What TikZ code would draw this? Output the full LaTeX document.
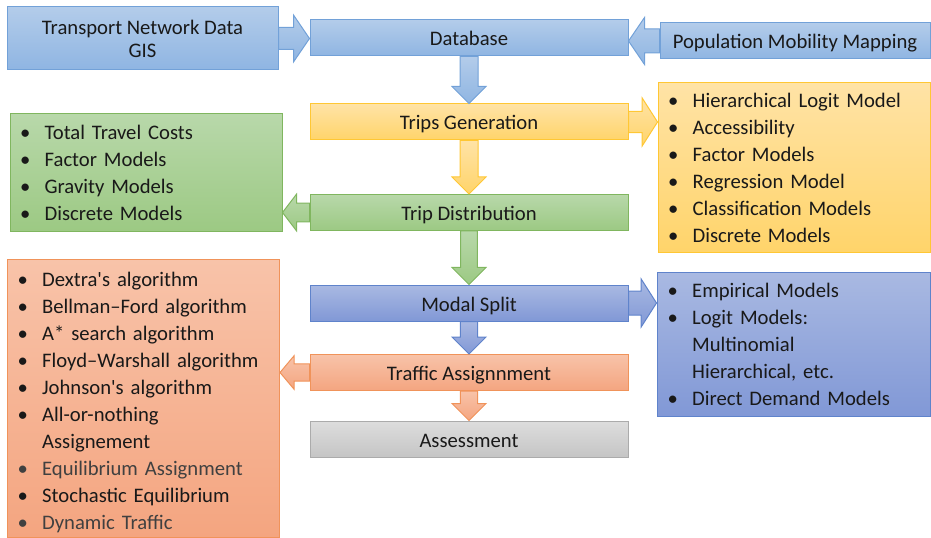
\documentclass[tikz,border=0pt]{standalone}
\usepackage{fontspec}
\setmainfont{Carlito}
\usetikzlibrary{calc,positioning}

\definecolor{blueTop}{HTML}{B3CCEA}
\definecolor{blueBot}{HTML}{8FB5E2}
\definecolor{blueLine}{HTML}{72A1D8}
\definecolor{yellowTop}{HTML}{FFE3A6}
\definecolor{yellowBot}{HTML}{FFD46A}
\definecolor{yellowLine}{HTML}{FFC734}
\definecolor{greenTop}{HTML}{B8D8AA}
\definecolor{greenBot}{HTML}{9CC983}
\definecolor{greenLine}{HTML}{80B65F}
\definecolor{indigoTop}{HTML}{A9B9E2}
\definecolor{indigoBot}{HTML}{8198D6}
\definecolor{indigoLine}{HTML}{5F83CB}
\definecolor{orangeTop}{HTML}{F8C3A9}
\definecolor{orangeBot}{HTML}{F4A580}
\definecolor{orangeLine}{HTML}{F0935A}
\definecolor{grayTop}{HTML}{DDDDDD}
\definecolor{grayBot}{HTML}{C5C5C5}
\definecolor{grayLine}{HTML}{ABABAB}
\definecolor{textgray}{HTML}{404040}

\tikzset{
  blueshade/.style={top color=blueTop, bottom color=blueBot, draw=blueLine},
  yellowshade/.style={top color=yellowTop, bottom color=yellowBot, draw=yellowLine},
  greenshade/.style={top color=greenTop, bottom color=greenBot, draw=greenLine},
  indigoshade/.style={top color=indigoTop, bottom color=indigoBot, draw=indigoLine},
  orangeshade/.style={top color=orangeTop, bottom color=orangeBot, draw=orangeLine},
  grayshade/.style={top color=grayTop, bottom color=grayBot, draw=grayLine}
}

% bullet with a fixed indent, and the same indent for wrapped lines
\newcommand{\itm}{\makebox[18.5pt][l]{\textbullet}}
\newcommand{\cont}{\makebox[18.5pt]{}}

% block arrow: style, from, to, shaft half width, head half width, head length
\newcommand{\flowarrow}[6]{%
  \coordinate (hb) at ($(#3)!#6!(#2)$);
  \path[#1, line width=0.75pt]
    ($(#2)!#4!90:(#3)$) -- ($(hb)!#4!90:(#3)$) -- ($(hb)!#5!90:(#3)$) -- (#3)
    -- ($(hb)!#5!-90:(#3)$) -- ($(hb)!#4!-90:(#3)$) -- ($(#2)!#4!-90:(#3)$) -- cycle;
}

\begin{document}
\begin{tikzpicture}[x=0.75pt,y=-0.75pt]

\tikzset{
    stage/.style={
        shape=rectangle,
        line width=0.75pt,
        minimum width=238.5pt,
        minimum height=27pt,
        inner sep=0pt,
        text=black!90,
        font=\fontsize{15.5}{17.25}\selectfont
    },
    oneline/.style={
        text height=12.5pt,
        text depth=0.5pt
    },
    listbox/.style={
        shape=rectangle,
        line width=0.75pt,
        minimum width=204pt,
        text width=189pt,
        inner xsep=7.5pt,
        inner ysep=0pt,
        align=left,
        text=black!90,
        font=\fontsize{15.5}{20.25}\selectfont
    }
}

\useasboundingbox (0,0) rectangle (931,538);

% data sources
\node[stage, blueshade, minimum width=203.25pt, minimum height=47.25pt, align=center] (gis) at (142.5,38.5) {Transport Network Data\\GIS};
\node[stage, oneline, blueshade] (db) at (469,38) {Database};
\node[stage, oneline, blueshade, minimum width=202.5pt] (pop) at (795,41) {Population Mobility Mapping};

% four step chain
\node[stage, oneline, yellowshade] (trips) at (469,122) {Trips Generation};
\node[stage, oneline, greenshade] (distr) at (469,212.5) {Trip Distribution};
\node[stage, oneline, indigoshade] (modal) at (469,303) {Modal Split};
\node[stage, oneline, orangeshade] (assign) at (469,372.5) {Traffic Assignnment};
\node[stage, oneline, grayshade] (assess) at (469,439) {Assessment};

% methods for each step
\node[listbox, yellowshade, minimum height=127.5pt] (genlist) at (794,168) {%
  \itm Hierarchical Logit Model\\
  \itm Accessibility\\
  \itm Factor Models\\
  \itm Regression Model\\
  \itm Classification Models\\
  \itm Discrete Models};
\node[listbox, greenshade, minimum height=88.5pt] (distlist) at (146,173) {%
  \itm Total Travel Costs\\
  \itm Factor Models\\
  \itm Gravity Models\\
  \itm Discrete Models};
\node[listbox, indigoshade, minimum width=204.75pt, minimum height=108pt] (splitlist) at (793.5,344) {%
  \itm Empirical Models\\
  \itm Logit Models:\\
  \cont Multinomial\\
  \cont Hierarchical, etc.\\
  \itm Direct Demand Models};
\node[listbox, orangeshade, minimum width=203.25pt, minimum height=207.75pt] (assignlist) at (143.5,398.5) {%
  \rule{0pt}{16.5pt}\itm Dextra\textquotesingle s algorithm\\
  \itm Bellman--Ford algorithm\\
  \itm A* search algorithm\\
  \itm Floyd--Warshall algorithm\\
  \itm Johnson\textquotesingle s algorithm\\
  \itm All-or-nothing\\
  \cont Assignement\\
  {\color{textgray}\itm Equilibrium Assignment}\\
  \itm Stochastic Equilibrium\\
  {\color{textgray}\itm Dynamic Traffic}};

% arrow tips on the receiving boxes
\coordinate (gisTip) at (gis.east -| db.west);
\coordinate (popTip) at (pop.west -| db.east);
\coordinate (genTip) at (trips.east -| genlist.west);
\coordinate (distTip) at (distr.west -| distlist.east);
\coordinate (splitTip) at (modal.east -| splitlist.west);
\coordinate (assignTip) at (assign.west -| assignlist.east);

% side arrows
\flowarrow{blueshade}{gis.east}{gisTip}{8.25pt}{17.6pt}{12pt}
\flowarrow{blueshade}{pop.west}{popTip}{9pt}{17.6pt}{12pt}
\flowarrow{yellowshade}{trips.east}{genTip}{8pt}{18pt}{11.5pt}
\flowarrow{greenshade}{distr.west}{distTip}{7pt}{13.75pt}{10.5pt}
\flowarrow{indigoshade}{modal.east}{splitTip}{9pt}{18pt}{11.5pt}
\flowarrow{orangeshade}{assign.west}{assignTip}{6.5pt}{12.5pt}{10.5pt}

% down arrows
\flowarrow{blueshade}{db.south}{trips.north}{6.75pt}{12.75pt}{12.75pt}
\flowarrow{yellowshade}{trips.south}{distr.north}{6.75pt}{12.75pt}{12.75pt}
\flowarrow{greenshade}{distr.south}{modal.north}{6.25pt}{12.75pt}{12.75pt}
\flowarrow{indigoshade}{modal.south}{assign.north}{6.5pt}{12.75pt}{12.75pt}
\flowarrow{orangeshade}{assign.south}{assess.north}{6.5pt}{12.75pt}{12.75pt}
\end{tikzpicture}
\end{document}
